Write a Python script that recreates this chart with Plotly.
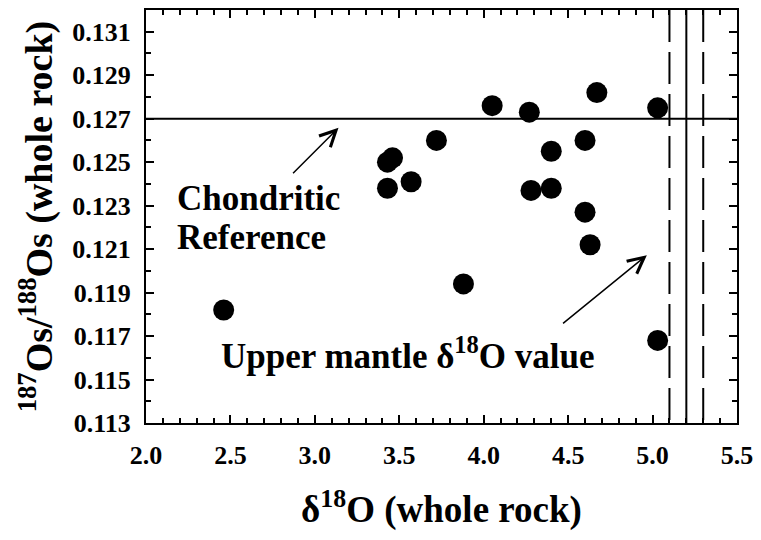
import plotly.graph_objects as go

# Data
d18O = [2.46, 3.43, 3.43, 3.46, 3.57, 3.72, 3.88, 4.05, 4.27, 4.28,
        4.40, 4.40, 4.60, 4.60, 4.63, 4.67, 5.03, 5.03]
os_ratio = [0.1182, 0.1238, 0.1250, 0.1252, 0.1241, 0.1260, 0.1194, 0.1276, 0.1273, 0.1237,
            0.1238, 0.1255, 0.1260, 0.1227, 0.1212, 0.1282, 0.1275, 0.1168]

chondritic = 0.127
mantle_mean = 5.2
mantle_lo = 5.1
mantle_hi = 5.3

x_range = [2.0, 5.5]
y_range = [0.113, 0.132]

FONT = "Liberation Serif"

fig = go.Figure()

fig.add_trace(go.Scatter(
    x=d18O, y=os_ratio, mode="markers",
    marker=dict(size=21, color="black", line=dict(width=0)),
    showlegend=False, cliponaxis=False,
))

# reference lines
fig.add_shape(type="line", xref="x", yref="y", x0=x_range[0], x1=x_range[1],
              y0=chondritic, y1=chondritic, line=dict(color="black", width=2), layer="below")
fig.add_shape(type="line", xref="x", yref="y", x0=mantle_mean, x1=mantle_mean,
              y0=y_range[1], y1=y_range[0], line=dict(color="black", width=2), layer="below")
for xv in (mantle_lo, mantle_hi):
    fig.add_shape(type="line", xref="x", yref="y", x0=xv, x1=xv,
                  y0=y_range[1], y1=y_range[0],
                  line=dict(color="black", width=2, dash="32px,10px"), layer="below")

ann_font = dict(family=FONT, size=35, color="black", weight="bold")
fig.add_annotation(x=2.17, y=0.12333, xref="x", yref="y", text="Chondritic",
                   showarrow=False, xanchor="left", yanchor="middle", font=ann_font)
fig.add_annotation(x=2.17, y=0.12155, xref="x", yref="y", text="Reference",
                   showarrow=False, xanchor="left", yanchor="middle", font=ann_font)
fig.add_annotation(x=3.55, y=0.1162, xref="x", yref="y",
                   text="Upper mantle δ<sup>18</sup>O value",
                   showarrow=False, xanchor="center", yanchor="middle", font=ann_font)

# arrows
fig.add_annotation(x=3.14, y=0.12658, ax=2.862, ay=0.12442, xref="x", yref="y",
                   axref="x", ayref="y", text="", showarrow=True, arrowhead=5,
                   arrowsize=2.1, arrowwidth=1.5, arrowcolor="black")
fig.add_annotation(x=4.966, y=0.12072, ax=4.461, ay=0.11753, xref="x", yref="y",
                   axref="x", ayref="y", text="", showarrow=True, arrowhead=5,
                   arrowsize=2.1, arrowwidth=1.5, arrowcolor="black")

tick_font = dict(family=FONT, size=26, color="black", weight="bold")

fig.update_xaxes(
    range=x_range, tick0=2.0, dtick=0.5, tickformat=".1f",
    ticks="inside", ticklen=8, tickwidth=1.5, tickcolor="black",
    minor=dict(dtick=0.1, ticks="inside", ticklen=5, tickwidth=1.5, tickcolor="black"),
    showline=True, linecolor="black", linewidth=2, mirror="allticks",
    showgrid=False, zeroline=False,
    tickfont=tick_font, ticklabelstandoff=8,
    title=dict(text="δ<sup>18</sup>O (whole rock)",
               font=dict(family=FONT, size=37, color="black", weight="bold"), standoff=27),
)
fig.update_yaxes(
    range=y_range, tick0=0.113, dtick=0.002, tickformat=".3f",
    ticks="inside", ticklen=8, tickwidth=1.5, tickcolor="black",
    minor=dict(dtick=0.001, ticks="inside", ticklen=5, tickwidth=1.5, tickcolor="black"),
    showline=True, linecolor="black", linewidth=2, mirror="allticks",
    showgrid=False, zeroline=False,
    tickfont=tick_font, ticklabelstandoff=8,
    title=dict(text="<sup>187</sup>Os/<sup>188</sup>Os (whole rock)",
               font=dict(family=FONT, size=38, color="black", weight="bold"), standoff=8),
)

fig.update_layout(
    width=761, height=540,
    margin=dict(l=146, r=20, t=8, b=117),
    paper_bgcolor="white", plot_bgcolor="white",
)

fig.write_html("out.html")
